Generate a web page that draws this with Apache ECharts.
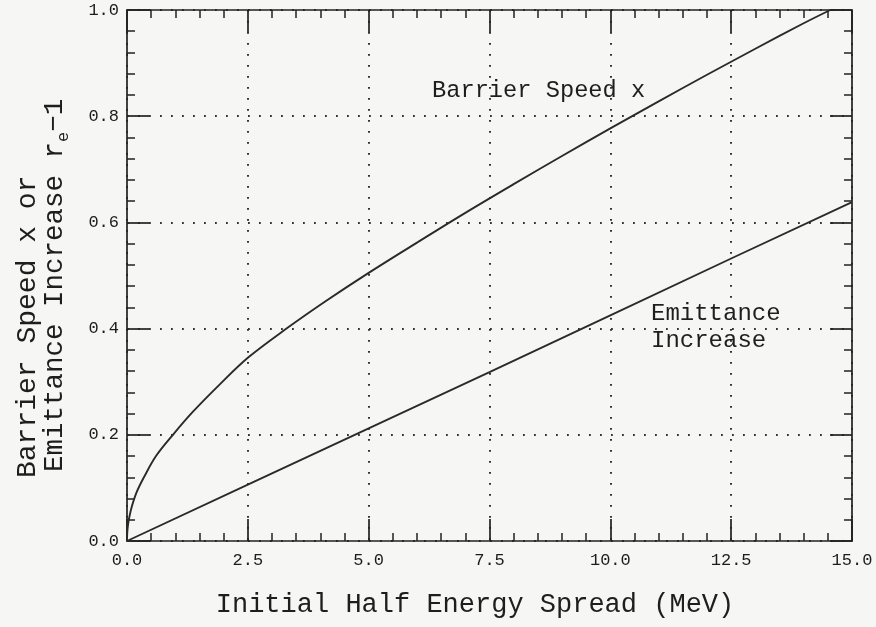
<!DOCTYPE html>
<html>
<head>
<meta charset="utf-8" />
<title>Barrier speed / emittance increase</title>
<script src="https://cdn.jsdelivr.net/npm/echarts@6/dist/echarts.min.js"></script>
<style type="text/css">
    html, body{
        margin: 0;
        padding: 0;
        width: 100%;
        height: 100%;
        background: #f6f6f4;
    }
    #main {
        width: 876px;
        height: 627px;
    }
</style>
</head>
<body>
<div id="main"></div>
<script>

// values
var barrierX = [0, 0.005, 0.02, 0.05, 0.1, 0.2, 0.35, 0.6, 0.95, 1.36, 1.92, 2.5, 3.3, 4.1, 5.0, 6.0, 7.0, 8.0, 9.0, 10.0, 11.0, 12.0, 13.0, 14.0, 14.55];
var barrierY = [0, 0.015, 0.03, 0.046, 0.065, 0.092, 0.12, 0.16, 0.2, 0.243, 0.295, 0.345, 0.40, 0.451, 0.505, 0.562, 0.618, 0.672, 0.725, 0.777, 0.828, 0.878, 0.927, 0.975, 1.0];

var emitX = [0, 2.5, 5, 7.5, 10, 12.5, 15];
var emitY = [0, 0.106, 0.212, 0.318, 0.425, 0.532, 0.638];

var xTicks = [0, 2.5, 5, 7.5, 10, 12.5, 15];
var yTicks = [0, 0.2, 0.4, 0.6, 0.8, 1.0];

var font = '"Liberation Mono", "DejaVu Sans Mono", monospace';
var ink = '#222';

function pairs(xs, ys){
    var out = [];
    for (var i = 0; i < xs.length; i++){
        out.push([xs[i], ys[i]]);
    }
    return out;
}

var dotted = {
    show: true,
    lineStyle: { color: '#333', width: 2, type: [1.8, 9.2] }
};

function axisBase(extra){
    var a = {
        type: 'value',
        axisLine: { show: true, onZero: false, lineStyle: { color: ink, width: 1.7 } },
        axisTick: { show: true, inside: true, length: 22, lineStyle: { color: ink, width: 1.7 } },
        minorTick: { show: true, splitNumber: 5, length: 8, lineStyle: { color: ink, width: 1.5 } },
        splitLine: { show: false },
        axisLabel: { show: false }
    };
    for (var k in extra) a[k] = extra[k];
    return a;
}

var chart = echarts.init(document.getElementById('main'));

chart.setOption({
    backgroundColor: '#f6f6f4',
    animation: false,
    grid: { left: 127, right: 24, top: 10, bottom: 86 },
    xAxis: [
        axisBase({
            position: 'bottom',
            min: 0, max: 15, interval: 2.5,
            splitLine: dotted,
            axisLabel: {
                show: true, margin: 11, color: '#1c1c1c',
                fontFamily: font, fontSize: 17,
                formatter: function(v){ return v.toFixed(1); }
            }
        }),
        axisBase({ position: 'top', min: 0, max: 15, interval: 2.5 })
    ],
    yAxis: [
        axisBase({
            position: 'left',
            min: 0, max: 1, interval: 0.2,
            splitLine: dotted,
            axisLabel: {
                show: true, margin: 8, color: '#1c1c1c',
                fontFamily: font, fontSize: 17,
                formatter: function(v){ return v.toFixed(1); }
            }
        }),
        axisBase({ position: 'right', min: 0, max: 1, interval: 0.2 })
    ],
    series: [
        {
            name: 'Barrier Speed x',
            type: 'line',
            data: pairs(barrierX, barrierY),
            showSymbol: false,
            smooth: 0.35,
            lineStyle: { color: '#2a2a2a', width: 1.9 }
        },
        {
            name: 'Emittance Increase',
            type: 'line',
            data: pairs(emitX, emitY),
            showSymbol: false,
            lineStyle: { color: '#2a2a2a', width: 1.9 }
        }
    ],
    graphic: [
        {
            type: 'text', left: 432, top: 79,
            style: { text: 'Barrier Speed x', fill: '#1e1e1e', font: '23.7px ' + font }
        },
        {
            type: 'text', left: 651, top: 300,
            style: { text: 'Emittance\nIncrease', fill: '#1e1e1e', font: '24px ' + font, lineHeight: 27 }
        },
        {
            type: 'text', x: 475, y: 605,
            style: {
                text: 'Initial Half Energy Spread (MeV)', fill: '#1e1e1e',
                font: '27px ' + font, textAlign: 'center', textVerticalAlign: 'middle'
            }
        },
        {
            type: 'text', x: 28, y: 478, rotation: Math.PI / 2,
            style: {
                text: 'Barrier Speed x or', fill: '#1e1e1e',
                font: '28px ' + font, textAlign: 'left', textVerticalAlign: 'middle'
            }
        },
        {
            type: 'text', x: 55, y: 472, rotation: Math.PI / 2,
            style: {
                text: '{n|Emittance Increase r}{s|e}{n|\u22121}',
                fill: '#1e1e1e', textAlign: 'left', textVerticalAlign: 'middle',
                rich: {
                    n: { fontFamily: font, fontSize: 27.5, lineHeight: 34, fill: '#1e1e1e' },
                    s: { fontFamily: font, fontSize: 17, lineHeight: 16, verticalAlign: 'bottom', fill: '#1e1e1e' }
                }
            }
        }
    ]
});

window.onresize = chart.resize;

</script>
</body>
</html>
